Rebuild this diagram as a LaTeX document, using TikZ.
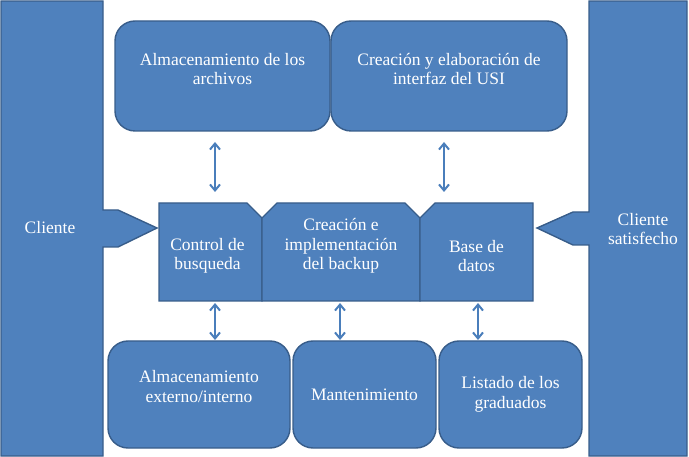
\documentclass[tikz,border=0pt]{standalone}
\usepackage{fontspec}
\setmainfont{Liberation Serif}
\usetikzlibrary{arrows.meta,shapes,calc,positioning}
\definecolor{boxblue}{HTML}{4F81BD}
\definecolor{boxline}{HTML}{385D8A}
\definecolor{linkblue}{HTML}{4A7EBB}
\tikzset{
	shapebox/.style={draw=boxline, fill=boxblue, line width=1.4pt},
	block/.style={shapebox, rounded corners=20pt, inner sep=0pt, outer sep=0pt},
	frame/.style={inner sep=0pt, outer sep=0pt},
	txt/.style={text=white, align=center, font=\fontsize{17.5}{19.5}\selectfont},
	link/.style={draw=linkblue, line width=2pt, {Straight Barb[length=6pt,width=10pt]}-{Straight Barb[length=6pt,width=10pt]}}
}
\begin{document}
\begin{tikzpicture}[x=1pt,y=-1pt]
		\useasboundingbox (0,0) rectangle (689,457);
		% side panels
		\draw [shapebox] (1,1) -- (103,1) -- (103,210) -- (118,210) -- (157,228) -- (118,247) -- (103,247) -- (103,456) -- (1,456) -- cycle;
		\draw [shapebox] (589,1) -- (687,1) -- (687,456) -- (589,456) -- (589,245) -- (573,245) -- (537,228) -- (573,212) -- (589,212) -- cycle;
		\node [txt] (cliente) at (50,228) {Cliente};
		\node [txt] (satisf) at (643,229) {Cliente\\satisfecho};
		% top boxes
		\node [block, minimum width=215, minimum height=110] (alm) at (222.5,76) {};
		\node [block, minimum width=236, minimum height=110] (usi) at (449,76) {};
		\node [txt] (almtxt) at ([yshift=7]alm.center) {Almacenamiento de los\\archivos};
		\node [txt] (usitxt) at ([yshift=7]usi.center) {Creación y elaboración de\\interfaz del USI};
		% middle process
		\node [frame, minimum width=103, minimum height=98] (ctl) at (210.5,252) {};
		\node [frame, minimum width=158, minimum height=98] (bkp) at (341,252) {};
		\node [frame, minimum width=113, minimum height=98] (bd) at (476.5,252) {};
		\draw [shapebox] (ctl.north west) -- ([xshift=-15]ctl.north east) -- ([yshift=-15]ctl.north east) -- (ctl.south east) -- (ctl.south west) -- cycle;
		\draw [shapebox] ([yshift=-15]bkp.north west) -- ([xshift=15]bkp.north west) -- ([xshift=-15]bkp.north east) -- ([yshift=-15]bkp.north east) -- (bkp.south east) -- (bkp.south west) -- cycle;
		\draw [shapebox] ([yshift=-15]bd.north west) -- ([xshift=15]bd.north west) -- (bd.north east) -- (bd.south east) -- (bd.south west) -- cycle;
		\node [txt] (ctltxt) at ([xshift=-3,yshift=-4]ctl.center) {Control de\\busqueda};
		\node [txt] (bkptxt) at ([yshift=6]bkp.center) {Creación e\\implementación\\del backup};
		\node [txt] (bdtxt) at ([yshift=-4]bd.center) {Base de\\datos};
		% bottom boxes
		\node [block, minimum width=182, minimum height=107] (ext) at (199,394.5) {};
		\node [block, minimum width=143, minimum height=107] (mant) at (364.5,394.5) {};
		\node [block, minimum width=143, minimum height=107] (grad) at (510.5,394.5) {};
		\node [txt] (exttxt) at ([yshift=8]ext.center) {Almacenamiento\\externo/interno};
		\node [txt] (manttxt) at (mant.center) {Mantenimiento};
		\node [txt] (gradtxt) at (grad.center) {Listado de los\\graduados};
		% links
		\coordinate (a1) at (215,0);
		\coordinate (a2) at (444,0);
		\coordinate (a3) at (340,0);
		\coordinate (a4) at (478,0);
		\draw [link, shorten <=11pt, shorten >=11pt] (alm.south -| a1) -- (a1 |- ctl.north);
		\draw [link, shorten <=11pt, shorten >=11pt] (usi.south -| a2) -- (a2 |- bd.north);
		\draw [link, shorten <=2pt, shorten >=1pt] (ctl.south -| a1) -- (a1 |- ext.north);
		\draw [link, shorten <=2pt, shorten >=1pt] (bkp.south -| a3) -- (a3 |- mant.north);
		\draw [link, shorten <=2pt, shorten >=1pt] (bd.south -| a4) -- (a4 |- grad.north);
	\end{tikzpicture}
\end{document}
